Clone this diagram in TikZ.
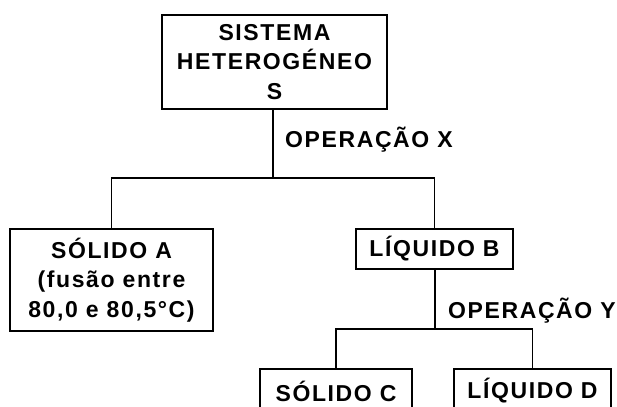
\documentclass[tikz,border=0pt]{standalone}
\usepackage{fontspec}
\setmainfont{Liberation Sans}[LetterSpace=7]
\begin{document}
\begin{tikzpicture}[x=1pt,y=-1pt,
  box/.style={draw,line width=1.5pt,inner sep=0pt,align=center,
    font=\bfseries\fontsize{23}{29.5}\selectfont},
  lbl/.style={anchor=base west,inner sep=0pt,font=\bfseries\fontsize{23}{29.5}\selectfont},
  conn/.style={line width=1.5pt}]
\useasboundingbox (0,0) rectangle (617,406);
\clip (0,0) rectangle (617,406);
\node[box,minimum width=225pt,minimum height=94pt] (S) at (274.5,62) {SISTEMA\\HETEROGÉNEO\\S};
\node[box,minimum width=203pt,minimum height=102pt] (A) at (111.5,280) {SÓLIDO A\\(fusão entre\\80,0 e 80,5°C)};
\node[box,minimum width=157pt,minimum height=40pt] (B) at (434.5,249) {LÍQUIDO B};
\node[box,minimum width=152pt,minimum height=44pt] (C) at (336,391) {SÓLIDO C};
\node[box,minimum width=157pt,minimum height=44pt] (D) at (532.5,391) {LÍQUIDO D};
\coordinate (j1) at (273,178);
\coordinate (j2) at (435,329);
\node[lbl] (ox) at (285,147) {OPERAÇÃO X};
\node[lbl] (oy) at (448,318) {OPERAÇÃO Y};
\draw[conn] (S.south -| j1) -- (j1);
\draw[conn] (A.north) |- (j1) -| (B.north);
\draw[conn] (B.south -| j2) -- (j2);
\draw[conn] (C.north) |- (j2) -| (D.north);
\end{tikzpicture}
\end{document}
